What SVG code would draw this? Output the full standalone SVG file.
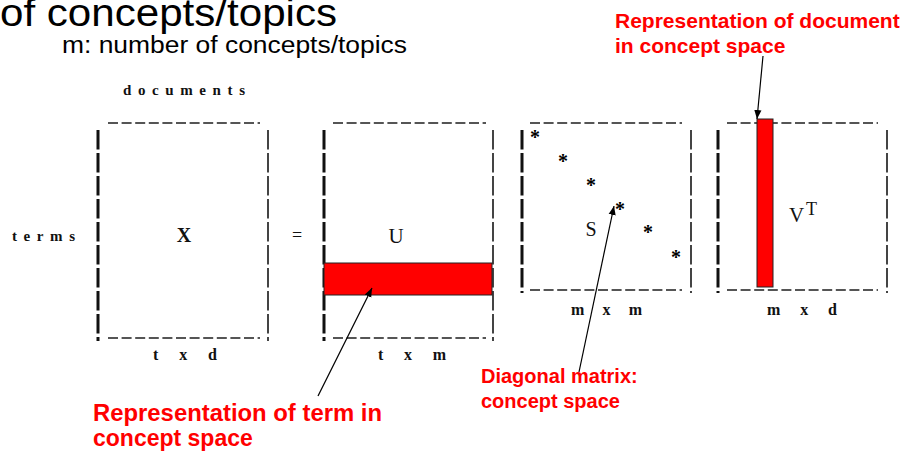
<svg xmlns="http://www.w3.org/2000/svg" width="906" height="452" viewBox="0 0 906 452">
<style>
.h{stroke:#555;stroke-width:2;stroke-dasharray:10 3.6;fill:none}
.lb{stroke:#111;stroke-width:3;stroke-dasharray:19.5 3.5;fill:none}
.rb{stroke:#444;stroke-width:2;stroke-dasharray:19.5 3.5;fill:none}
.sf{font-family:"Liberation Serif","Times New Roman",serif;fill:#111}
.sb{font-family:"Liberation Serif","Times New Roman",serif;font-weight:bold;fill:#111}
.red{font-family:"Liberation Sans",Arial,sans-serif;font-weight:bold;fill:#ff0000}
.blk{font-family:"Liberation Sans",Arial,sans-serif;fill:#000}
.ar{stroke:#000;stroke-width:1.2;fill:none;marker-end:url(#ah)}
.rr{fill:#ff0000;stroke:#222;stroke-width:1}
.st{font-family:"Liberation Serif","Times New Roman",serif;font-weight:bold;font-size:20px;fill:#000;text-anchor:middle}
</style>
<defs>
<marker id="ah" viewBox="0 0 10 10" refX="10" refY="5" markerWidth="9" markerHeight="9" markerUnits="userSpaceOnUse" orient="auto">
<path d="M0,1 L10,5 L0,9 Z" fill="#000"/>
</marker>
</defs>
<rect width="906" height="452" fill="#fff"/>
<g id="title">
<text class="blk" x="0" y="26" font-size="38" textLength="337" lengthAdjust="spacingAndGlyphs">of concepts/topics</text>
<text class="blk" x="62" y="53" font-size="23" textLength="345" lengthAdjust="spacingAndGlyphs">m: number of concepts/topics</text>
</g>
<g id="label-doc">
<text class="red" x="615" y="28" font-size="21">Representation of document</text>
<text class="red" x="615" y="53" font-size="21">in concept space</text>
</g>
<g id="label-term">
<text class="red" x="93" y="421" font-size="23" textLength="289" lengthAdjust="spacingAndGlyphs">Representation of term in</text>
<text class="red" x="93" y="446" font-size="23">concept space</text>
</g>
<g id="label-diag">
<text class="red" x="481" y="383" font-size="20">Diagonal matrix:</text>
<text class="red" x="481" y="408" font-size="20">concept space</text>
</g>
<g id="matrix-X">
<text class="sb" x="123" y="95" font-size="15" textLength="122" lengthAdjust="spacing">documents</text>
<text class="sb" x="12" y="241" font-size="15" textLength="63" lengthAdjust="spacing">terms</text>
<line class="h" x1="108" y1="123" x2="260" y2="123"/>
<line class="h" x1="108" y1="338" x2="260" y2="338"/>
<line class="lb" x1="98" y1="130" x2="98" y2="341"/>
<line class="rb" x1="268" y1="130" x2="268" y2="341"/>
<text class="sb" x="184" y="242" font-size="20" text-anchor="middle">X</text>
<text class="sb" x="153" y="360" font-size="16" textLength="64" lengthAdjust="spacing">t x d</text>
</g>
<g id="equals">
<text class="sf" x="297" y="241" font-size="18" text-anchor="middle">=</text>
</g>
<g id="matrix-U">
<line class="h" x1="333" y1="123" x2="486" y2="123"/>
<line class="h" x1="333" y1="338" x2="486" y2="338"/>
<line class="lb" x1="324" y1="130" x2="324" y2="341"/>
<line class="rb" x1="493" y1="130" x2="493" y2="341"/>
<rect class="rr" x="324" y="263" width="168" height="32"/>
<text class="sf" x="396" y="243" font-size="21" text-anchor="middle">U</text>
<text class="sb" x="378" y="360" font-size="16" textLength="68" lengthAdjust="spacing">t x m</text>
</g>
<g id="matrix-S">
<line class="h" x1="530" y1="123" x2="682" y2="123"/>
<line class="h" x1="530" y1="290" x2="682" y2="290"/>
<line class="lb" x1="522" y1="130" x2="522" y2="293"/>
<line class="rb" x1="691" y1="130" x2="691" y2="293"/>
<text class="st" x="535" y="144">*</text>
<text class="st" x="563" y="168">*</text>
<text class="st" x="591" y="192">*</text>
<text class="st" x="620" y="216">*</text>
<text class="st" x="648" y="239">*</text>
<text class="st" x="676" y="264">*</text>
<text class="sf" x="591" y="236" font-size="20" text-anchor="middle">S</text>
<text class="sb" x="571" y="315" font-size="16" textLength="71" lengthAdjust="spacing">m x m</text>
</g>
<g id="matrix-VT">
<line class="h" x1="727" y1="123" x2="878" y2="123"/>
<line class="h" x1="727" y1="290" x2="878" y2="290"/>
<line class="lb" x1="718" y1="130" x2="718" y2="293"/>
<line class="rb" x1="887" y1="130" x2="887" y2="293"/>
<rect class="rr" x="757" y="119" width="16" height="168"/>
<text class="sf" x="789" y="222" font-size="21">V</text>
<text class="sf" x="806" y="215" font-size="18">T</text>
<text class="sb" x="767" y="315" font-size="16" textLength="70" lengthAdjust="spacing">m x d</text>
</g>
<g id="connectors">
<line class="ar" x1="763" y1="56" x2="757" y2="119"/>
<line class="ar" x1="318" y1="396" x2="372" y2="288"/>
<line class="ar" x1="579" y1="372" x2="614" y2="206"/>
</g>
</svg>
